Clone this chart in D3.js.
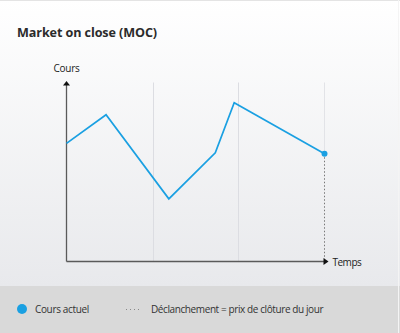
<!DOCTYPE html>
<html><head><meta charset="utf-8">
<script src="https://cdn.jsdelivr.net/npm/d3@7"></script>
<style>html,body{margin:0;padding:0;background:#fff;}svg{display:block;}</style>
</head><body>
<script>
const title = "Market on close (MOC)";
const yLabel = "Cours";
const xLabel = "Temps";
const times = [0, 0.46, 1.19, 1.73, 1.95, 3];
const prices = [66, 82, 35, 60.7, 88.7, 60.2];
const gridTimes = [1, 2, 3];
const legendLabels = ["Cours actuel", "Déclanchement = prix de clôture du jour"];

const W = 400, H = 333;
const font = "'Open Sans', 'Noto Sans', sans-serif";
const blue = "#1aa0e2";
const svg = d3.select("body").append("svg").attr("width", W).attr("height", H);
const defs = svg.append("defs");
const g = defs.append("linearGradient").attr("id","bg").attr("x1",0).attr("y1",0).attr("x2",0).attr("y2",1);
g.append("stop").attr("offset","0%").attr("stop-color","#ffffff");
g.append("stop").attr("offset","100%").attr("stop-color","#e8e9ec");
svg.append("rect").attr("width",W).attr("height",286).attr("fill","url(#bg)");
svg.append("rect").attr("y",286).attr("width",W).attr("height",H-286).attr("fill","#d9d9d9");
svg.append("line").attr("x1",0).attr("x2",W).attr("y1",0.5).attr("y2",0.5).attr("stroke","#e4e4e4");
svg.append("line").attr("x1",W-1.5).attr("x2",W-1.5).attr("y1",0).attr("y2",H).attr("stroke","#f4f4f4");

svg.append("text").attr("x",17).attr("y",37).text(title)
  .attr("font-family",font).attr("font-weight",700).attr("font-size",12.6).attr("letter-spacing",-0.1).attr("fill","#2b2b2b");

const x = d3.scaleLinear().domain([0,3]).range([66.5,324.5]);
const y = d3.scaleLinear().domain([0,100]).range([261.5,82.5]);

// grid
svg.append("g").selectAll("line").data(gridTimes.slice(0,2)).join("line")
  .attr("x1",d=>Math.round(x(d))+0.5).attr("x2",d=>Math.round(x(d))+0.5)
  .attr("y1",y(100)).attr("y2",y(0)).attr("stroke","#dcdde2").attr("stroke-width",1);
svg.append("line").attr("x1",x(3)).attr("x2",x(3)).attr("y1",y(100)).attr("y2",y(prices[5]))
  .attr("stroke","#e2e3e7");
// dotted drop line
svg.append("line").attr("x1",x(3)).attr("x2",x(3)).attr("y1",y(prices[5])).attr("y2",y(0))
  .attr("stroke","#777").attr("stroke-width",1).attr("stroke-dasharray","1.5,2");

// axes
const axCol = "#5a5a5a";
svg.append("line").attr("x1",x(0)).attr("x2",x(0)).attr("y1",y(0)).attr("y2",y(100)+2).attr("stroke",axCol).attr("stroke-width",1.3);
svg.append("line").attr("x1",x(0)).attr("x2",x(3)).attr("y1",y(0)).attr("y2",y(0)).attr("stroke",axCol).attr("stroke-width",1.3);
svg.append("path").attr("d",`M${x(0)-3.5},${y(100)+3} L${x(0)},${y(100)-1.5} L${x(0)+3.5},${y(100)+3} Z`).attr("fill","#111");
svg.append("path").attr("d",`M${x(3)-1},${y(0)-3.5} L${x(3)+4},${y(0)} L${x(3)-1},${y(0)+3.5} Z`).attr("fill","#111");

svg.append("text").attr("x",x(0)).attr("y",72).attr("text-anchor","middle").text(yLabel)
  .attr("font-family",font).attr("font-size",10).attr("letter-spacing",-0.3).attr("fill","#222");
svg.append("text").attr("x",x(3)+8).attr("y",y(0)+4).text(xLabel)
  .attr("font-family",font).attr("font-size",10).attr("letter-spacing",-0.5).attr("fill","#222");

// line
const line = d3.line().x((d,i)=>x(times[i])).y(d=>y(d));
svg.append("path").datum(prices).attr("d",line).attr("fill","none")
  .attr("stroke",blue).attr("stroke-width",1.7).attr("stroke-linejoin","miter");
svg.append("circle").attr("cx",x(3)).attr("cy",y(prices[5])).attr("r",3).attr("fill",blue);

// legend
svg.append("circle").attr("cx",22).attr("cy",309).attr("r",5).attr("fill",blue);
svg.append("text").attr("x",35).attr("y",312.5).text(legendLabels[0])
  .attr("font-family",font).attr("font-size",10).attr("letter-spacing",-0.35).attr("fill","#333");
svg.append("line").attr("x1",126).attr("x2",142).attr("y1",309.5).attr("y2",309.5)
  .attr("stroke","#888").attr("stroke-dasharray","1,3");
svg.append("text").attr("x",151).attr("y",312.5).text(legendLabels[1])
  .attr("font-family",font).attr("font-size",10).attr("letter-spacing",-0.4).attr("fill","#333");
</script>
</body></html>
